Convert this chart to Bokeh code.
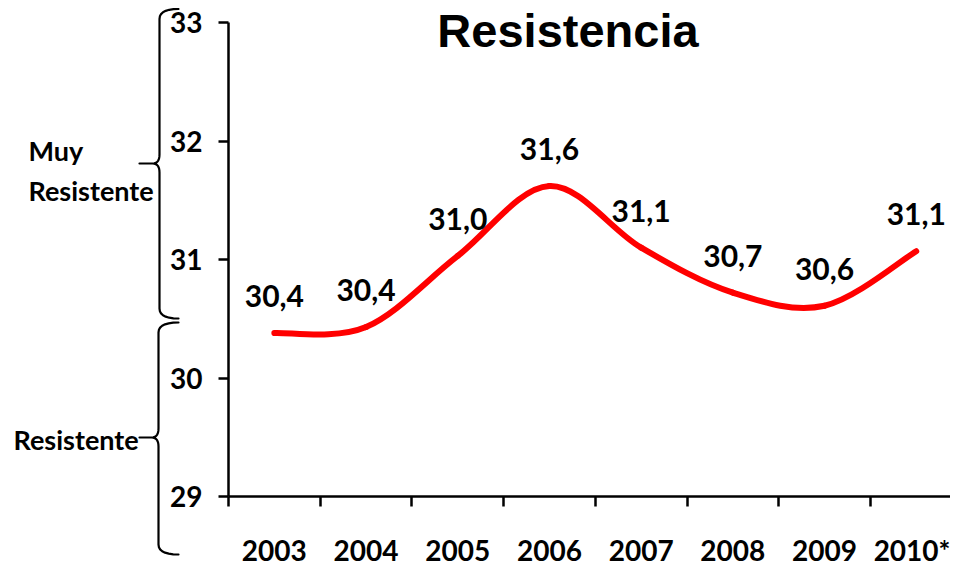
import numpy as np
from bokeh.plotting import figure
from bokeh.models import Range1d, FixedTicker, ColumnDataSource, Label, PolyAnnotation
from bokeh.core.properties import value
from bokeh.embed import file_html
from bokeh.resources import INLINE

# ---- data ----
years = ["2003", "2004", "2005", "2006", "2007", "2008", "2009", "2010*"]
resistencia = [30.38, 30.43, 31.03, 31.62, 31.10, 30.72, 30.61, 31.07]
y_ticks = [29, 30, 31, 32, 33]
title_text = "Resistencia"
band_top_lines = ["Muy", "Resistente"]
band_bottom_text = "Resistente"

# ---- layout constants (canvas pixels) ----
W, H = 950, 565
AX_X, AX_TOP, AX_BOT = 228, 22, 496     # y-axis line x, top (33) and bottom (29)
CAT_W = 91.7                            # pixel width of one category
Y0, Y1 = 29, 33
PX_PER_Y = (AX_BOT - AX_TOP) / (Y1 - Y0)
FONT = "Lato"

x_range = Range1d(-AX_X / CAT_W, (W - AX_X) / CAT_W)
y_range = Range1d(Y0 - (H - AX_BOT) / PX_PER_Y, Y1 + AX_TOP / PX_PER_Y)

p = figure(width=W, height=H, min_border=0,
           x_range=x_range, y_range=y_range,
           output_backend="svg", toolbar_location=None,
           background_fill_color="white", border_fill_color="white")
p.outline_line_color = None
p.xgrid.visible = False
p.ygrid.visible = False

xs = np.arange(len(years)) + 0.5
ys = np.array(resistencia, dtype=float)

# ---- axes ----
xax = p.xaxis[0]
xax.fixed_location = Y0
xax.bounds = (0, x_range.end)
xax.ticker = FixedTicker(ticks=list(xs), minor_ticks=list(range(len(years) + 1)))
xax.major_label_overrides = {float(x): y for x, y in zip(xs, years)}
xax.major_tick_out = 0
xax.major_tick_in = 0
xax.minor_tick_out = 10
xax.minor_tick_in = 0
xax.minor_tick_line_width = 2.5
xax.minor_tick_line_color = "black"
xax.axis_line_width = 2.5
xax.axis_line_color = "black"
xax.major_label_text_font = FONT
xax.major_label_text_font_style = "bold"
xax.major_label_text_font_size = "28px"
xax.major_label_text_color = "black"
xax.major_label_standoff = 26

yax = p.yaxis[0]
yax.fixed_location = 0
yax.bounds = (Y0, Y1)
yax.ticker = FixedTicker(ticks=y_ticks, minor_ticks=[])
yax.major_tick_out = 10
yax.major_tick_in = 0
yax.major_tick_line_width = 2.5
yax.major_tick_line_color = "black"
yax.axis_line_width = 2.5
yax.axis_line_color = "black"
yax.major_label_text_font = FONT
yax.major_label_text_font_style = "bold"
yax.major_label_text_font_size = "28px"
yax.major_label_text_color = "black"
yax.major_label_standoff = 16

# ---- smoothed line (Excel-style Bezier through the data points) ----
n = len(xs)
x0, y0, x1, y1, cx0, cy0, cx1, cy1 = ([] for _ in range(8))
for i in range(n - 1):
    im1 = max(i - 1, 0)
    ip2 = min(i + 2, n - 1)
    x0.append(xs[i]); y0.append(ys[i])
    x1.append(xs[i + 1]); y1.append(ys[i + 1])
    cx0.append(xs[i] + (xs[i + 1] - xs[im1]) / 6.0)
    cy0.append(ys[i] + (ys[i + 1] - ys[im1]) / 6.0)
    cx1.append(xs[i + 1] - (xs[ip2] - xs[i]) / 6.0)
    cy1.append(ys[i + 1] - (ys[ip2] - ys[i]) / 6.0)
bz = ColumnDataSource(dict(x0=x0, y0=y0, x1=x1, y1=y1, cx0=cx0, cy0=cy0, cx1=cx1, cy1=cy1))
p.bezier(x0="x0", y0="y0", x1="x1", y1="y1", cx0="cx0", cy0="cy0", cx1="cx1", cy1="cy1",
         source=bz, line_color="#FF0000", line_width=6, line_cap="round")

# ---- data labels ----
lab_src = ColumnDataSource(dict(x=xs, y=ys, t=[f"{v:.1f}".replace(".", ",") for v in ys]))
p.text(x="x", y="y", text="t", source=lab_src, y_offset=-37,
       text_align="center", text_baseline="middle",
       text_font=value(FONT), text_font_style="bold", text_font_size="30px", text_color="black")

# ---- decorations, in canvas pixels ----
def lab(txt, x, y, font, size, align="left"):
    return Label(x=x, y=y, x_units="canvas", y_units="canvas", text=txt, text_align=align,
                 text_baseline="middle", text_font=font, text_font_style="bold",
                 text_font_size=size, text_color="black")

p.add_layout(lab(title_text, 567.5, 30, "Liberation Sans", "47px", "center"))
for txt, (px, py) in zip(band_top_lines, [(28, 150), (28, 190)]):
    p.add_layout(lab(txt, px, py, FONT, "27px"))
p.add_layout(lab(band_bottom_text, 13, 439, FONT, "27px"))


def quad(a, c, b, k=8):
    t = np.linspace(0, 1, k)
    return [((1 - s) ** 2 * a[0] + 2 * (1 - s) * s * c[0] + s ** 2 * b[0],
             (1 - s) ** 2 * a[1] + 2 * (1 - s) * s * c[1] + s ** 2 * b[1]) for s in t]


def brace(x_v, x_h, x_t, y_top, y_bot, y_m, r=10, rm=9):
    pts = []
    pts += quad((x_h, y_top), (x_v, y_top), (x_v, y_top + r))
    pts += quad((x_v, y_m - rm), (x_v, y_m), (x_v - 7, y_m))
    pts += [(x_t, y_m)]
    pts += quad((x_v - 7, y_m), (x_v, y_m), (x_v, y_m + rm))
    pts += quad((x_v, y_bot - r), (x_v, y_bot), (x_h, y_bot))
    full = pts + pts[::-1][1:-1]
    return [a for a, _ in full], [b for _, b in full]


for args in [(159, 178, 139, 8.5, 318, 163), (158, 178, 139, 322, 554, 437)]:
    bx, by = brace(*args)
    p.add_layout(PolyAnnotation(xs=bx, ys=by, xs_units="canvas", ys_units="canvas",
                                fill_alpha=0, line_color="black", line_alpha=1.0,
                                line_width=2.2, line_join="round"))

open("out.html", "w").write(file_html(p, INLINE))
